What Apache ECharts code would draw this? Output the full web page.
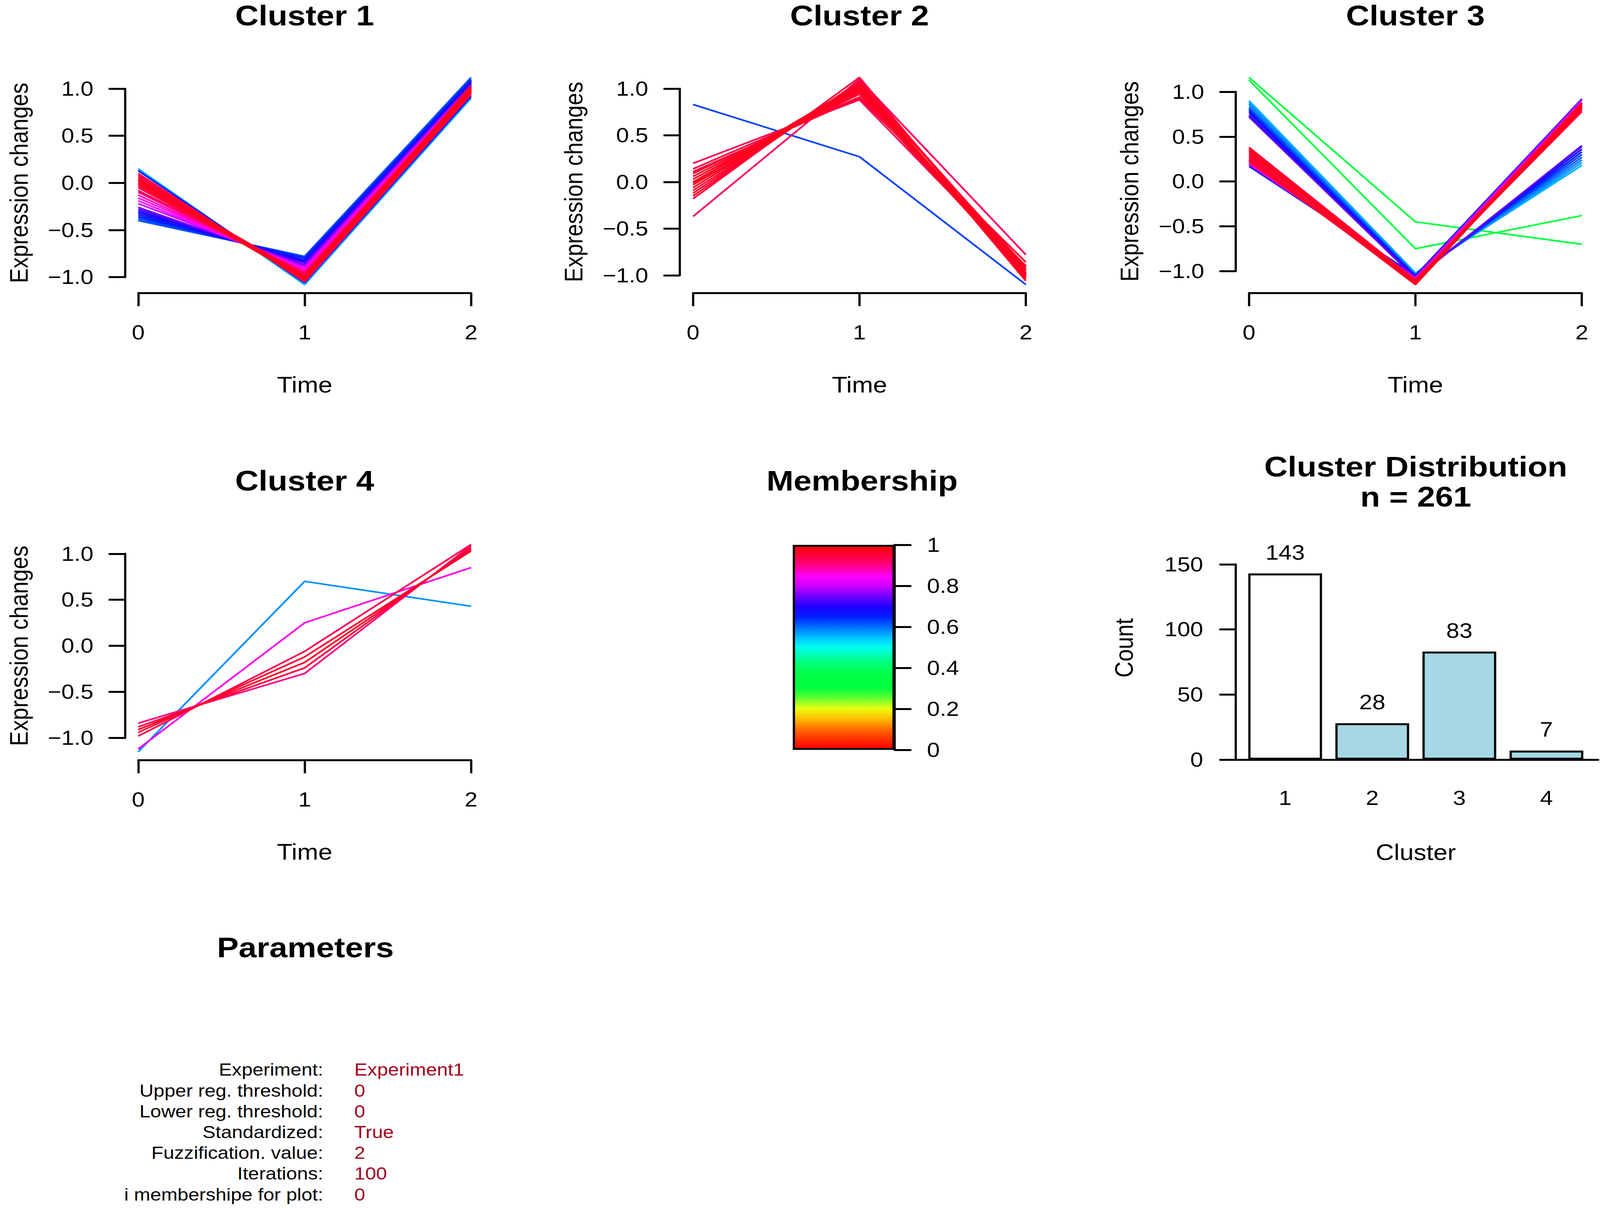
<!DOCTYPE html>
<html>
<head>
<meta charset="utf-8">
<script src="https://cdn.jsdelivr.net/npm/echarts@6/dist/echarts.min.js"></script>
<style>
html, body { margin: 0; padding: 0; background: #fff; overflow: hidden; }
#main { height: 3093px; transform-origin: 0 0; }
</style>
</head>
<body>
<div id="main"></div>
<script>
var timePoints = [0, 1, 2];

// each profile: [time 0, time 1, time 2, membership]
var cluster1 = [
    [-0.40, -0.78, 1.12, 0.62], [-0.38, -0.79, 1.10, 0.63], [-0.36, -0.80, 1.09, 0.65],
    [-0.34, -0.82, 1.08, 0.66], [-0.32, -0.83, 1.07, 0.68], [-0.30, -0.84, 1.06, 0.70],
    [-0.28, -0.85, 1.05, 0.72], [-0.26, -0.87, 1.04, 0.75], [0.15, -1.08, 0.90, 0.56],
    [0.13, -1.06, 0.92, 0.66], [-0.22, -0.89, 1.03, 0.80], [-0.19, -0.91, 1.02, 0.84],
    [-0.16, -0.92, 1.01, 0.86], [-0.13, -0.94, 1.00, 0.88], [-0.10, -0.95, 1.01, 0.91],
    [-0.08, -0.96, 0.99, 0.93], [-0.05, -0.98, 1.00, 0.95], [-0.03, -0.99, 0.98, 0.96],
    [0.00, -1.00, 1.00, 0.97], [0.02, -1.01, 0.99, 0.98], [0.04, -1.02, 0.97, 0.97],
    [0.06, -1.03, 0.96, 0.96], [0.08, -1.04, 0.95, 0.95], [0.10, -1.05, 0.94, 0.94],
    [-0.01, -1.02, 1.03, 0.97], [0.03, -0.98, 1.02, 0.96]
];
var cluster2 = [
    [0.83, 0.27, -1.10, 0.63], [-0.37, 1.10, -0.78, 0.93], [0.20, 0.88, -0.95, 0.94],
    [0.14, 0.91, -0.90, 0.95], [0.09, 0.94, -1.00, 0.96], [0.06, 0.96, -0.97, 0.97],
    [0.03, 0.98, -1.02, 0.97], [0.00, 1.00, -0.99, 0.98], [-0.03, 1.01, -0.95, 0.98],
    [-0.06, 1.03, -1.04, 0.97], [-0.09, 1.04, -0.98, 0.96], [-0.12, 1.06, -1.06, 0.97],
    [-0.15, 1.08, -0.93, 0.96], [-0.18, 1.12, -1.01, 0.95], [0.11, 0.90, -0.86, 0.96],
    [-0.01, 1.05, -0.91, 0.97]
];
var cluster3 = [
    [1.16, -0.45, -0.70, 0.33], [1.13, -0.75, -0.38, 0.35], [0.90, -1.02, 0.18, 0.56],
    [0.88, -1.03, 0.21, 0.57], [0.86, -1.04, 0.24, 0.59], [0.83, -1.04, 0.27, 0.61],
    [0.81, -1.05, 0.30, 0.63], [0.79, -1.06, 0.33, 0.65], [0.77, -1.06, 0.36, 0.68],
    [0.74, -1.07, 0.39, 0.70], [0.72, -1.08, 0.40, 0.74], [0.17, -1.05, 0.92, 0.66],
    [0.19, -1.07, 0.91, 0.80], [0.21, -1.09, 0.88, 0.90], [0.38, -1.10, 0.78, 0.95],
    [0.36, -1.12, 0.80, 0.97], [0.34, -1.13, 0.82, 0.98], [0.32, -1.11, 0.84, 0.97],
    [0.30, -1.14, 0.86, 0.96], [0.28, -1.12, 0.88, 0.95], [0.26, -1.15, 0.85, 0.97],
    [0.24, -1.11, 0.83, 0.94], [0.23, -1.13, 0.87, 0.96]
];
var cluster4 = [
    [-1.15, 0.70, 0.43, 0.58], [-1.12, 0.25, 0.85, 0.86], [-0.84, -0.30, 1.09, 0.91],
    [-0.88, -0.24, 1.07, 0.95], [-0.91, -0.18, 1.05, 0.97], [-0.94, -0.12, 1.03, 0.96],
    [-0.98, -0.06, 1.10, 0.94]
];

var clusterNames = ['1', '2', '3', '4'];
var clusterCounts = [143, 28, 83, 7];
var countTicks = [0, 50, 100, 150];

var membershipTicks = [0, 0.2, 0.4, 0.6, 0.8, 1];
// colour scale from membership 0 (bottom) to 1 (top)
var membershipColors = [
    '#ff0000', '#ff3300', '#ff7000', '#ffc000', '#e8ff10', '#60ff30', '#00ff40',
    '#00ff40', '#00ff60', '#00ffa0', '#00ffee', '#00c0ff', '#0070ff', '#0020ff',
    '#2000ff', '#7000ff', '#c800ff', '#ff00ff', '#ff0090', '#ff0040', '#ff0000'
];

var paramLabels = ['Experiment:', 'Upper reg. threshold:', 'Lower reg. threshold:', 'Standardized:',
    'Fuzzification. value:', 'Iterations:', 'i membershipe for plot:'];
var paramValues = ['Experiment1', '0', '0', 'True', '2', '100', '0'];

var FONT = '"Liberation Sans", Arial, Helvetica, sans-serif';
// the original figure is stretched sideways, so lay out in a narrower box and widen it afterwards
var S = 1.2;
function H(v) { return v / S; }
var UNIT = 449, ROW = 1196, PLOT_TOP = 177, PLOT_H = 573;

var grids = [], xAxes = [], yAxes = [], series = [], titles = [];

function addGrid(g, x, y) {
    var i = grids.length;
    grids.push(g);
    x.gridIndex = i;
    y.gridIndex = i;
    xAxes.push(x);
    yAxes.push(y);
    return i;
}

function memColor(m) {
    return echarts.color.lerp(m, membershipColors);
}

function axisParts(tickLen) {
    return {
        axisLine: {show: true, onZero: false, lineStyle: {color: '#000', width: 5}},
        axisTick: {show: true, length: tickLen, lineStyle: {color: '#000', width: 5}},
        splitLine: {show: false}
    };
}

function signed(v) {
    return (v < 0 ? '\u2212' : '') + Math.abs(v).toFixed(1);
}

function addTitle(text, x, y, lineH) {
    titles.push({
        text: text, left: H(x), top: y, padding: 0,
        textAlign: 'center', textVerticalAlign: 'middle',
        textStyle: {fontSize: 73, fontWeight: 'bold', fontFamily: FONT, color: '#000', lineHeight: lineH || 74}
    });
}

var labelText = {fontSize: 52, color: '#000', fontFamily: FONT};
var nameText = {fontSize: 57, color: '#000', fontFamily: FONT};

var panels = [
    {name: 'Cluster 1', data: cluster1, x0: 373, row: 0},
    {name: 'Cluster 2', data: cluster2, x0: 1870, row: 0},
    {name: 'Cluster 3', data: cluster3, x0: 3370, row: 0},
    {name: 'Cluster 4', data: cluster4, x0: 373, row: 1}
];

panels.forEach(function (p) {
    var ro = p.row * ROW;
    var vals = [];
    p.data.forEach(function (r) { vals.push(r[0], r[1], r[2]); });
    var lo = Math.min.apply(null, vals), hi = Math.max.apply(null, vals);
    var pad = (hi - lo) * 0.04;
    var ymin = lo - pad, ymax = hi + pad;
    var top = PLOT_TOP + ro;
    var left = H(p.x0 - 0.08 * UNIT);
    var py = function (v) { return top + (ymax - v) / (ymax - ymin) * PLOT_H; };

    // plotting region
    var g = addGrid({left: left, top: top, width: H(2.16 * UNIT), height: PLOT_H},
        {type: 'value', min: -0.08, max: 2.08, show: false},
        {type: 'value', min: ymin, max: ymax, show: false});

    p.data.slice().sort(function (a, b) { return a[3] - b[3]; }).forEach(function (r) {
        series.push({
            type: 'line', xAxisIndex: g, yAxisIndex: g, silent: true,
            symbol: 'none', clip: false,
            data: timePoints.map(function (t, i) { return [t, r[i]]; }),
            lineStyle: {color: memColor(r[3]), width: 4.2}
        });
    });

    // y axis, drawn only between -1 and 1 like R
    addGrid({left: left, top: py(1), width: H(2.16 * UNIT), height: py(-1) - py(1)},
        {type: 'value', min: 0, max: 1, show: false},
        Object.assign(axisParts(H(44)), {
            type: 'value', min: -1, max: 1, interval: 0.5, position: 'left',
            axisLabel: Object.assign({margin: H(85), formatter: signed}, labelText),
            name: 'Expression changes', nameLocation: 'middle', nameGap: H(252), nameRotate: 90,
            nameTextStyle: nameText
        }));

    // x axis, drawn only between 0 and 2
    addGrid({left: H(p.x0), top: 740 + ro, width: H(2 * UNIT), height: 10},
        Object.assign(axisParts(34), {
            type: 'value', min: timePoints[0], max: timePoints[timePoints.length - 1], interval: 1,
            position: 'bottom',
            axisLabel: Object.assign({margin: 75}, labelText),
            name: 'Time', nameLocation: 'middle', nameGap: 207,
            nameTextStyle: nameText
        }),
        {type: 'value', min: 0, max: 1, show: false});

    addTitle(p.name, p.x0 + UNIT, 40 + p.row * 1191);
});

// membership colour bar
var stops = membershipColors.map(function (c, i) {
    return {offset: 1 - i / (membershipColors.length - 1), color: c};
}).reverse();
var cb = addGrid({left: H(2139), top: 1395, width: H(275), height: 525},
    {type: 'category', data: ['m'], show: false},
    Object.assign(axisParts(H(45)), {
        type: 'value', position: 'right',
        min: membershipTicks[0], max: membershipTicks[membershipTicks.length - 1],
        interval: membershipTicks[1] - membershipTicks[0],
        axisLabel: Object.assign({margin: H(87),
            formatter: function (v) { return String(Math.round(v * 10) / 10); }}, labelText)
    }));
series.push({
    type: 'bar', xAxisIndex: cb, yAxisIndex: cb, silent: true, barWidth: '100%',
    data: [membershipTicks[membershipTicks.length - 1]],
    itemStyle: {
        color: {type: 'linear', x: 0, y: 0, x2: 0, y2: 1, colorStops: stops},
        borderColor: '#000', borderWidth: 5
    }
});
addTitle('Membership', 2326, 1231);

// cluster size bar chart
var bc = addGrid({left: H(3350), top: 1445, width: H(940), height: 500},
    {
        type: 'category', data: clusterNames,
        axisLine: {show: false}, axisTick: {show: false},
        axisLabel: Object.assign({margin: 72}, labelText),
        name: 'Cluster', nameLocation: 'middle', nameGap: 209,
        nameTextStyle: nameText
    },
    Object.assign(axisParts(H(44)), {
        type: 'value', offset: H(16),
        min: countTicks[0], max: countTicks[countTicks.length - 1], interval: countTicks[1] - countTicks[0],
        axisLabel: Object.assign({margin: H(88)}, labelText),
        name: 'Count', nameLocation: 'middle', nameGap: H(267), nameRotate: 90,
        nameTextStyle: Object.assign({padding: [0, 0, 0, 72]}, nameText)
    }));
series.push({
    type: 'bar', xAxisIndex: bc, yAxisIndex: bc, silent: true, barWidth: H(199),
    data: clusterCounts.map(function (v, i) {
        return {value: v, itemStyle: {color: i === 0 ? '#ffffff' : '#a5d8e4'}};
    }),
    itemStyle: {borderColor: '#000', borderWidth: 5},
    label: Object.assign({show: true, position: 'top', distance: 27}, labelText, {fontSize: 53})
});
// baseline under the bars, running from the count axis to the edge
addGrid({left: H(3334), top: 1935, width: H(978), height: 10},
    {type: 'value', min: 0, max: 1, axisLine: {show: true, onZero: false, lineStyle: {color: '#000', width: 5}},
        axisTick: {show: false}, axisLabel: {show: false}, splitLine: {show: false}},
    {type: 'value', min: 0, max: 1, show: false});
var total = clusterCounts.reduce(function (a, b) { return a + b; }, 0);
addTitle('Cluster Distribution\nn = ' + total, 3820, 1233, 77);

// parameters block
addTitle('Parameters', 824, 2426);
var paramElements = [];
paramLabels.forEach(function (t, i) {
    var y = 2739 + i * 53.2;
    paramElements.push({
        type: 'text', x: H(872), y: y, silent: true,
        style: {text: t, fontSize: 44, fontFamily: FONT, fill: '#000', align: 'right', verticalAlign: 'middle'}
    });
    paramElements.push({
        type: 'text', x: H(956), y: y, silent: true,
        style: {text: paramValues[i], fontSize: 44, fontFamily: FONT, fill: '#a0001c', align: 'left', verticalAlign: 'middle'}
    });
});

// fit the 4317x3093 drawing to the real viewport
var mainEl = document.getElementById('main');
mainEl.style.width = H(4317) + 'px';
var sx = (window.innerWidth || 4317) / 4317, sy = (window.innerHeight || 3093) / 3093;
mainEl.style.transform = 'scale(' + (sx * S) + ',' + sy + ')';

var chart = echarts.init(mainEl, null, {renderer: 'svg'});
chart.setOption({
    animation: false,
    backgroundColor: '#ffffff',
    textStyle: {fontFamily: FONT},
    title: titles,
    grid: grids,
    xAxis: xAxes,
    yAxis: yAxes,
    series: series,
    graphic: {elements: paramElements}
});
</script>
</body>
</html>
